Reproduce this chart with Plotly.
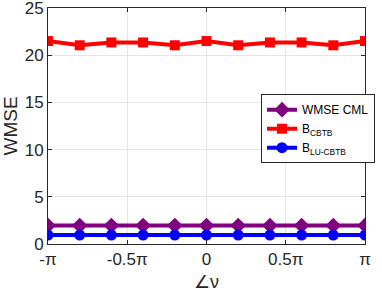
import plotly.graph_objects as go

angle_pi = [-1.0, -0.8, -0.6, -0.4, -0.2, 0.0, 0.2, 0.4, 0.6, 0.8, 1.0]
wmse_cml = [1.95, 1.95, 1.95, 1.95, 1.95, 1.95, 1.95, 1.95, 1.95, 1.95, 1.95]
b_cbtb = [21.5, 21.05, 21.35, 21.35, 21.05, 21.5, 21.05, 21.35, 21.35, 21.05, 21.5]
b_lu_cbtb = [0.95, 0.95, 0.95, 0.95, 0.95, 0.95, 0.95, 0.95, 0.95, 0.95, 0.95]
xtick_vals = [-1.0, -0.5, 0.0, 0.5, 1.0]
xtick_text = ["-π", "-0.5π", "0", "0.5π", "π"]
ytick_vals = [0, 5, 10, 15, 20, 25]

FONT = "Liberation Sans, Arial, Helvetica, sans-serif"

fig = go.Figure()
fig.add_trace(go.Scatter(x=angle_pi, y=wmse_cml, mode="lines+markers", name="WMSE CML",
                         line=dict(color="#800080", width=4),
                         marker=dict(symbol="diamond", size=12, color="#800080")))
fig.add_trace(go.Scatter(x=angle_pi, y=b_cbtb, mode="lines+markers", name="B<sub>CBTB</sub>",
                         line=dict(color="#FF0000", width=4),
                         marker=dict(symbol="square", size=10, color="#FF0000")))
fig.add_trace(go.Scatter(x=angle_pi, y=b_lu_cbtb, mode="lines+markers", name="B<sub>LU-CBTB</sub>",
                         line=dict(color="#0000FF", width=4),
                         marker=dict(symbol="circle", size=11, color="#0000FF")))

axis_common = dict(showline=True, linecolor="#262626", linewidth=1, mirror="ticks",
                   ticks="inside", ticklen=4, tickcolor="#262626",
                   showgrid=True, gridcolor="#E6E6E6", gridwidth=1, zeroline=False,
                   ticklabeloverflow="allow", automargin=False,
                   tickfont=dict(family=FONT, size=17, color="#262626"))

fig.update_xaxes(range=[-1, 1], tickvals=xtick_vals, ticktext=xtick_text,
                 title=dict(text="∠ν", font=dict(family=FONT, size=18, color="#262626"), standoff=6),
                 **axis_common)
fig.update_yaxes(range=[0, 25], tickvals=ytick_vals,
                 title=dict(text="WMSE", font=dict(family=FONT, size=19, color="#262626"), standoff=4),
                 **axis_common)

fig.update_layout(
    width=382, height=296,
    margin=dict(l=48, r=7, t=8, b=52),
    paper_bgcolor="white", plot_bgcolor="white",
    showlegend=True,
    legend=dict(x=0.672, y=0.635, xanchor="left", yanchor="top",
                bgcolor="white", bordercolor="#262626", borderwidth=1,
                font=dict(family=FONT, size=12, color="black"),
                itemwidth=30, tracegroupgap=0),
)

fig.write_html("out.html", config={"displayModeBar": False},
               post_script="document.body.style.margin='0';")
